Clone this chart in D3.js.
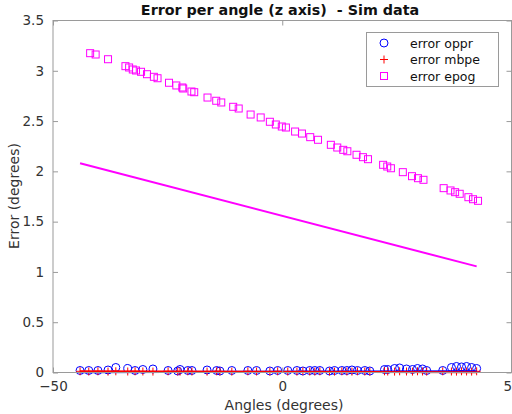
<!DOCTYPE html>
<html><head><meta charset="utf-8">
<script src="https://cdn.jsdelivr.net/npm/d3@7"></script>
<style>body{margin:0;background:#fff}svg{display:block}text{font-family:"DejaVu Sans",sans-serif}</style>
</head><body>
<svg id="c" width="512" height="414"></svg>
<script>
// epog series
const epogAngles = [-41.9,-40.7,-38.0,-34.2,-33.4,-32.6,-31.9,-30.8,-29.5,-28.0,-27.2,-24.7,-23.1,-21.8,-21.6,-19.8,-19.2,-16.3,-14.4,-13.3,-10.7,-9.5,-6.9,-4.7,-2.7,-1.4,-0.1,0.8,2.8,4.3,6.1,7.8,10.6,12.0,13.3,14.2,16.2,17.6,18.7,22.0,22.9,23.7,26.3,28.3,29.6,30.8,35.2,36.7,37.7,38.7,40.6,41.6,42.7];
const epogErr = [3.175,3.162,3.115,3.046,3.033,3.013,3.003,2.990,2.966,2.940,2.926,2.881,2.854,2.834,2.824,2.794,2.787,2.734,2.702,2.685,2.642,2.625,2.565,2.536,2.493,2.466,2.446,2.436,2.396,2.376,2.340,2.314,2.264,2.237,2.214,2.200,2.165,2.141,2.121,2.065,2.048,2.031,1.992,1.952,1.932,1.916,1.833,1.810,1.793,1.777,1.743,1.723,1.707];
// oppr / mbpe series
const angles = [-44.1,-42.2,-40.2,-38.0,-36.3,-33.7,-32.1,-30.4,-28.2,-24.9,-22.8,-22.3,-20.6,-19.7,-16.4,-14.3,-13.6,-11.0,-7.5,-5.6,-2.7,-1.0,1.2,3.2,4.5,6.0,7.1,8.2,10.3,11.4,13.0,14.1,15.2,16.4,18.0,19.1,22.3,23.0,24.5,25.6,27.1,28.4,29.5,30.6,31.5,35.0,36.9,38.0,39.1,40.2,41.3,42.4];
const opprErr = [0.02,0.02,0.02,0.025,0.05,0.04,0.02,0.03,0.035,0.02,0.015,0.03,0.02,0.02,0.025,0.02,0.015,0.02,0.02,0.02,0.015,0.02,0.02,0.02,0.015,0.02,0.02,0.02,0.015,0.02,0.02,0.02,0.025,0.02,0.02,0.015,0.03,0.03,0.04,0.045,0.035,0.03,0.04,0.035,0.02,0.02,0.05,0.06,0.055,0.06,0.05,0.04];
const mbpeErr = [0.012,0.01,0.012,0.009,0.012,0.01,0.012,0.01,0.009,0.012,0.01,0.009,0.012,0.01,0.009,0.012,0.01,0.009,0.012,0.01,0.009,0.012,0.01,0.009,0.012,0.01,0.009,0.012,0.01,0.009,0.012,0.01,0.009,0.012,0.01,0.009,0.012,0.01,0.009,0.012,0.01,0.009,0.012,0.01,0.009,0.012,0.01,0.009,0.012,0.01,0.009,0.012];
// straight lines
const lineX = [-44.1, 42.4];
const lineEpog = [2.08, 1.055];
const lineOppr = [0.002, 0.012];
const lineMbpe = [0.012, 0.003];
const xTicks = [-50, 0, 50];
const yTicks = [0, 0.5, 1, 1.5, 2, 2.5, 3, 3.5];
const legendLabels = ["error oppr", "error mbpe", "error epog"];

const svg = d3.select("#c");
const L = 53, R = 511.5, T = 20.5, B = 372.5;
const x = d3.scaleLinear().domain([-50, 50]).range([L, R]);
const y = d3.scaleLinear().domain([0, 3.5]).range([B, T]);
const axisCol = "#9a9a9a", textCol = "#333";

const ln = d3.line().x(d => x(d[0])).y(d => y(d[1]));
const plotLine = (ys, col) => svg.append("path").attr("d", ln(lineX.map((v, i) => [v, ys[i]])))
  .attr("stroke", col).attr("stroke-width", 2).attr("fill", "none");

// circles oppr
svg.append("g").selectAll("circle").data(angles).join("circle")
  .attr("cx", d => x(d)).attr("cy", (d, i) => y(opprErr[i])).attr("r", 4)
  .attr("fill", "none").attr("stroke", "#0000ff").attr("stroke-width", 1);
// plus mbpe
const plus = (g, cx, cy, s, col) => g.append("path")
  .attr("d", `M${cx - s},${cy}H${cx + s}M${cx},${cy - s}V${cy + s}`)
  .attr("stroke", col).attr("stroke-width", 1).attr("fill", "none");
const gp = svg.append("g");
angles.forEach((a, i) => plus(gp, x(a), y(mbpeErr[i]), 4, "#ff0000"));
// squares epog
svg.append("g").selectAll("rect").data(epogAngles).join("rect")
  .attr("x", d => x(d) - 3.5).attr("y", (d, i) => y(epogErr[i]) - 3.5)
  .attr("width", 7).attr("height", 7)
  .attr("fill", "none").attr("stroke", "#ff00ff").attr("stroke-width", 1);

plotLine(lineEpog, "#ff00ff");
plotLine(lineOppr, "#0000ff");
plotLine(lineMbpe, "#ff0000");

// box
svg.append("rect").attr("x", L).attr("y", T).attr("width", R - L).attr("height", B - T)
  .attr("fill", "none").attr("stroke", axisCol).attr("stroke-width", 1);

// axes
const xa = svg.append("g").attr("transform", `translate(0,${B})`)
  .call(d3.axisBottom(x).tickValues(xTicks).tickSize(-5).tickPadding(9).tickFormat(d3.format("d")));
const xt = svg.append("g").attr("transform", `translate(0,${T})`)
  .call(d3.axisTop(x).tickValues(xTicks).tickSize(-5).tickFormat(""));
const ya = svg.append("g").attr("transform", `translate(${L},0)`)
  .call(d3.axisLeft(y).tickValues(yTicks).tickSize(-5).tickPadding(9).tickFormat(d => String(d)));
const yr = svg.append("g").attr("transform", `translate(${R},0)`)
  .call(d3.axisRight(y).tickValues(yTicks).tickSize(-5).tickFormat(""));
[xa, xt, ya, yr].forEach(g => {
  g.select(".domain").remove();
  g.selectAll("line").attr("stroke", axisCol);
  g.selectAll("text").attr("fill", textCol).style("font-size", "13.5px").style("font-family", "DejaVu Sans");
});

// titles
svg.append("text").attr("x", 280).attr("y", 15).attr("text-anchor", "middle")
  .style("font-size", "14.3px").style("font-weight", "bold").style("white-space", "pre").attr("fill", "#111")
  .text("Error per angle (z axis)  - Sim data");
svg.append("text").attr("x", 284).attr("y", 410).attr("text-anchor", "middle")
  .style("font-size", "14px").attr("fill", textCol).text("Angles (degrees)");
svg.append("text").attr("transform", "translate(19,196) rotate(-90)").attr("text-anchor", "middle")
  .style("font-size", "14px").attr("fill", textCol).text("Error (degrees)");

// legend
const lg = svg.append("g");
lg.append("rect").attr("x", 366.5).attr("y", 32.5).attr("width", 132).attr("height", 54)
  .attr("fill", "#fff").attr("stroke", axisCol);
const ly = [43, 59.5, 76];
lg.append("circle").attr("cx", 384).attr("cy", ly[0]).attr("r", 4).attr("fill", "none").attr("stroke", "#0000ff");
plus(lg, 384, ly[1], 4, "#ff0000");
lg.append("rect").attr("x", 380.5).attr("y", ly[2] - 3.5).attr("width", 7).attr("height", 7).attr("fill", "none").attr("stroke", "#ff00ff");
legendLabels.forEach((t, i) => lg.append("text").attr("x", 410).attr("y", ly[i] + 4.5)
  .style("font-size", "12.5px").attr("fill", "#111").text(t));
</script>
</body></html>
